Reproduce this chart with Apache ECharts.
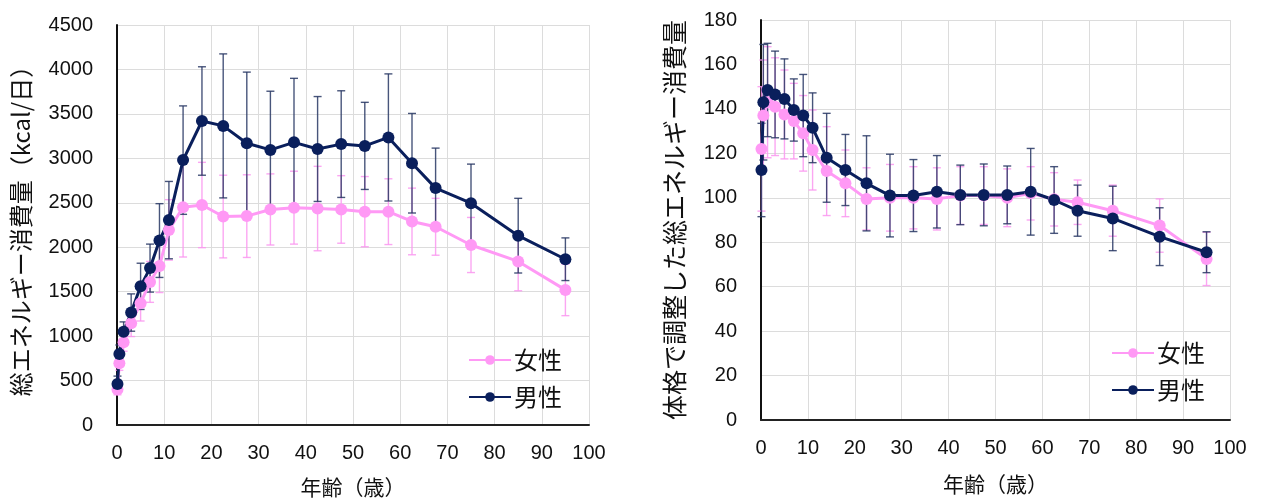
<!DOCTYPE html>
<html><head><meta charset="utf-8">
<script src="https://cdn.jsdelivr.net/npm/echarts@6/dist/echarts.min.js"></script>
<style>html,body{margin:0;padding:0;background:#fff}#c{width:1265px;height:500px}</style>
</head><body><div id="c"></div>
<script>
const ages = [0.1, 0.5, 1.4, 3, 5, 7, 9, 11, 14, 18, 22.5, 27.5, 32.5, 37.5, 42.5, 47.5, 52.5, 57.5, 62.5, 67.5, 75, 85, 95];
const teeMale = [460, 800, 1050, 1265, 1560, 1765, 2075, 2305, 2980, 3420, 3365, 3170, 3095, 3180, 3105, 3160, 3140, 3235, 2945, 2665, 2495, 2130, 1865];
const teeMaleSD = [90, 100, 110, 210, 260, 270, 415, 435, 610, 610, 810, 800, 660, 720, 590, 600, 490, 715, 560, 450, 440, 420, 240];
const teeFemale = [400, 695, 930, 1145, 1370, 1610, 1790, 2195, 2450, 2475, 2345, 2350, 2425, 2445, 2435, 2425, 2400, 2400, 2290, 2230, 2025, 1840, 1520];
const teeFemaleSD = [60, 80, 100, 150, 200, 230, 300, 340, 560, 480, 465, 465, 400, 410, 475, 380, 395, 370, 375, 320, 310, 330, 290];
const adjMale = [112.5, 143, 148.5, 146.5, 144.5, 139.5, 137, 131.5, 118, 112.5, 106.5, 101, 101, 102.7, 101.3, 101.3, 101.3, 102.7, 99, 94.2, 90.7, 82.5, 75.5];
const adjMaleSD = [21, 26, 21, 19.5, 18, 14, 18.5, 15.7, 20, 16, 21.4, 18.6, 16.2, 16.3, 13.4, 13.9, 13, 19.5, 15, 11.5, 14.5, 13, 9.2];
const adjFemale = [122, 137, 143, 141, 137.5, 134.5, 129, 121.5, 112, 106.5, 99.5, 100, 100, 99.5, 101, 101, 100, 102, 99.3, 98, 94.2, 87.5, 72.5];
const adjFemaleSD = [28, 25, 25, 22, 20, 17, 17, 18, 20, 15, 14, 15, 14, 14, 13, 13, 13, 12, 12, 10, 11.5, 12, 12];
const xTicks = [0, 10, 20, 30, 40, 50, 60, 70, 80, 90, 100];

const PINK = '#FF99F5', NAVY = '#0A1F5C';
const FONT = 'Liberation Sans, Noto Sans CJK JP, sans-serif';
const JFONT = 'Noto Sans CJK JP, sans-serif';

function pts(vals){ return ages.map((a,i)=>[a, vals[i]]); }
function errs(vals, sd){ return ages.map((a,i)=>[a, vals[i]-sd[i], vals[i]+sd[i]]); }
function errRender(color){
  return function(params, api){
    const x = api.value(0), lo = api.value(1), hi = api.value(2);
    const a = api.coord([x, lo]), b = api.coord([x, hi]);
    const w = 4, st = {stroke: color, lineWidth: 1.4};
    return {type:'group', children:[
      {type:'line', shape:{x1:a[0], y1:a[1], x2:b[0], y2:b[1]}, style:st},
      {type:'line', shape:{x1:a[0]-w, y1:a[1], x2:a[0]+w, y2:a[1]}, style:st},
      {type:'line', shape:{x1:b[0]-w, y1:b[1], x2:b[0]+w, y2:b[1]}, style:st}
    ]};
  };
}
function xAxis(gi, margin, gap){
  return {type:'value', gridIndex:gi, min:0, max:100, interval:10,
    name:'年齢（歳）', nameLocation:'middle', nameGap:gap,
    nameTextStyle:{fontFamily:JFONT, fontSize:21, color:'#111'},
    axisLine:{show:true, lineStyle:{color:'#222', width:2}}, axisTick:{show:false},
    axisLabel:{fontFamily:FONT, fontSize:20, color:'#111', margin:margin,
      formatter: v => xTicks.indexOf(v) >= 0 ? String(v) : ''},
    splitLine:{show:true, lineStyle:{color:'#dcdcdc', width:1}}};
}
function yAxis(gi, max, interval, name, gap, nsize){
  return {type:'value', gridIndex:gi, min:0, max:max, interval:interval,
    name:name, nameLocation:'middle', nameGap:gap, nameRotate:90,
    nameTextStyle:{fontFamily:JFONT, fontSize:nsize, color:'#111'},
    axisLine:{show:true, lineStyle:{color:'#111', width:2}}, axisTick:{show:false},
    axisLabel:{fontFamily:FONT, fontSize:20, color:'#111', margin:24, formatter: v => String(v)},
    splitLine:{show:true, lineStyle:{color:'#dcdcdc', width:1}}};
}
function lineS(name, gi, vals, color){
  return {type:'line', name:name, xAxisIndex:gi, yAxisIndex:gi, data:pts(vals),
    symbol:'circle', symbolSize:12, showSymbol:true,
    lineStyle:{color:color, width:3}, itemStyle:{color:color}, z:3};
}
function errS(name, gi, vals, sd, color){
  return {type:'custom', name:name, xAxisIndex:gi, yAxisIndex:gi,
    renderItem: errRender(color), data: errs(vals, sd), encode:{x:0, y:[1,2]}, z:2};
}
function legend(left, top){
  return {data:['女性','男性'], orient:'vertical', left:left, top:top,
    itemWidth:42, itemHeight:12, itemGap:13, selectedMode:false,
    textStyle:{fontFamily:JFONT, fontSize:24, color:'#111', padding:[0,0,0,-2]}};
}
const chart = echarts.init(document.getElementById('c'));
chart.setOption({
  animation:false,
  grid:[{left:117, top:25, width:472, height:400, containLabel:false, outerBoundsMode:'none'},
        {left:761, top:20, width:469, height:400, containLabel:false, outerBoundsMode:'none'}],
  xAxis:[xAxis(0, 18, 52), xAxis(1, 18, 54)],
  yAxis:[yAxis(0, 4500, 500, '総エネルギー消費量（kcal/日）', 84, 24),
         yAxis(1, 180, 20, '体格で調整した総エネルギー消費量', 74, 25)],
  legend:[legend(463, 343), legend(1106, 336)],
  series:[
    errS('女性SD', 0, teeFemale, teeFemaleSD, 'rgba(250,150,240,0.85)'),
    lineS('女性', 0, teeFemale, PINK),
    errS('男性SD', 0, teeMale, teeMaleSD, 'rgba(40,55,100,0.85)'),
    lineS('男性', 0, teeMale, NAVY),
    errS('女性SD2', 1, adjFemale, adjFemaleSD, 'rgba(250,150,240,0.85)'),
    lineS('女性', 1, adjFemale, PINK),
    errS('男性SD2', 1, adjMale, adjMaleSD, 'rgba(40,55,100,0.85)'),
    lineS('男性', 1, adjMale, NAVY)
  ]
});
</script></body></html>
